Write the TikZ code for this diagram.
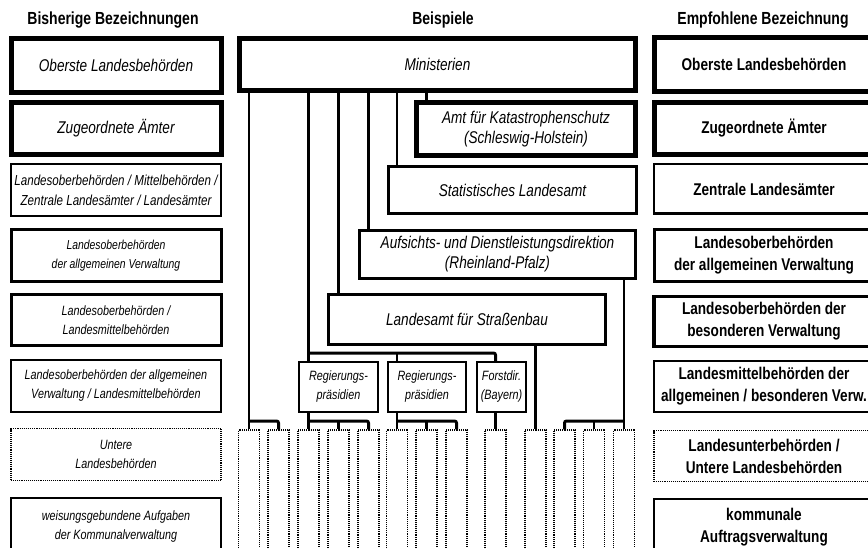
\documentclass[tikz,border=0pt]{standalone}
\usepackage{fontspec}
\setmainfont{Liberation Sans}[FakeStretch=0.8]
\begin{document}
\begin{tikzpicture}[x=1pt,y=-1pt,
  box/.style={draw, fill=white, inner sep=0pt, align=center, text=black},
  lw5/.style={line width=5pt},
  lw3/.style={line width=3pt},
  lw25/.style={line width=2.5pt},
  lw2/.style={line width=2pt},
  dotbox/.style={draw, fill=white, inner sep=0pt, align=center, line width=1.4pt, dash pattern=on 1pt off 0.9pt},
  big/.style={font=\fontsize{17}{20}\selectfont\itshape},
  small/.style={font=\fontsize{13.5}{19}\selectfont\itshape},
  rb/.style={font=\fontsize{17}{22}\selectfont\bfseries},
  head/.style={font=\fontsize{17.5}{20}\selectfont\bfseries},
  conn/.style={line width=2.5pt},
  bus/.style={line width=3pt, rounded corners=2pt},
  lcol/.style={minimum width=210pt},
  rcol/.style={minimum width=220pt},
  dbox/.style={dotbox, minimum width=21pt, minimum height=130pt}
]
\useasboundingbox (0,0) rectangle (868,548);
% headers
\node[head] (h1) at (113,20) {Bisherige Bezeichnungen};
\node[head] (h2) at (443,20) {Beispiele};
\node[head] (h3) at (763,20) {Empfohlene Bezeichnung};
% left column
\node[box,lcol,lw5,big,minimum height=54pt] (l1) at (116,65.5) {Oberste Landesbehörden};
\node[box,lcol,lw5,big,minimum height=52pt] (l2) at (116,128.5) {Zugeordnete Ämter};
\node[box,lcol,lw25,font=\fontsize{14.5}{20}\selectfont\itshape,minimum height=52pt] (l3) at (116,190) {Landesoberbehörden / Mittelbehörden /\\Zentrale Landesämter / Landesämter};
\node[box,lcol,lw3,font=\fontsize{13}{19}\selectfont\itshape,minimum height=52pt] (l4) at (116,255.5) {Landesoberbehörden\\der allgemeinen Verwaltung};
\node[box,lcol,lw3,small,minimum height=51pt] (l5) at (116,320) {Landesoberbehörden /\\Landesmittelbehörden};
\node[box,lcol,lw2,small,minimum height=52pt] (l6) at (116,386) {Landesoberbehörden der allgemeinen\\Verwaltung / Landesmittelbehörden};
\node[dotbox,lcol,small,minimum height=52pt] (l7) at (116,454.5) {Untere\\Landesbehörden};
\node[box,lcol,lw2,small,minimum height=58pt] (l8) at (116,527) {weisungsgebundene Aufgaben\\der Kommunalverwaltung};
% right column
\node[box,rcol,lw5,rb,minimum height=54pt] (r1) at (764,64.5) {Oberste Landesbehörden};
\node[box,rcol,lw5,rb,minimum height=52pt] (r2) at (764,128.5) {Zugeordnete Ämter};
\node[box,rcol,lw25,rb,minimum height=49.5pt] (r3) at (764,189) {Zentrale Landesämter};
\node[box,rcol,lw3,rb,minimum height=52pt] (r4) at (764,255.5) {Landesoberbehörden\\der allgemeinen Verwaltung};
\node[box,rcol,line width=3.5pt,rb,minimum height=49.5pt] (r5) at (764,321.5) {Landesoberbehörden der\\besonderen Verwaltung};
\node[box,rcol,lw2,rb,minimum height=51pt] (r6) at (764,386.5) {Landesmittelbehörden der\\allgemeinen / besonderen Verw.};
\node[dotbox,rcol,rb,minimum height=51pt] (r7) at (764,456) {Landesunterbehörden /\\Untere Landesbehörden};
\node[box,rcol,lw2,rb,minimum height=57pt] (r8) at (764,527) {kommunale\\Auftragsverwaltung};
% middle column
\node[box,lw5,big,minimum width=396pt,minimum height=52pt] (min) at (437.5,64.5) {Ministerien};
\node[box,lw5,big,minimum width=219pt,minimum height=53pt] (amt) at (526,129) {Amt für Katastrophenschutz\\(Schleswig-Holstein)};
\node[box,lw3,big,minimum width=248pt,minimum height=47pt] (stat) at (512.5,190) {Statistisches Landesamt};
\node[box,lw3,big,minimum width=276pt,minimum height=48pt] (auf) at (497.5,254.5) {Aufsichts- und Dienstleistungsdirektion\\(Rheinland-Pfalz)};
\node[box,lw3,big,minimum width=277pt,minimum height=50pt] (sb) at (467,319.5) {Landesamt für Straßenbau};
\node[box,lw2,small,minimum width=79pt,minimum height=50pt] (reg1) at (338.5,387) {Regierungs-\\präsidien};
\node[box,lw2,small,minimum width=78pt,minimum height=50pt] (reg2) at (427,387) {Regierungs-\\präsidien};
\node[box,lw2,small,minimum width=49pt,minimum height=50pt] (forst) at (501.5,387) {Forstdir.\\(Bayern)};
% bottom dotted boxes
\foreach \i/\x in {1/249,2/278.5,3/308.5,4/338.5,5/368.5,6/397,7/426.5,8/456.5,9/495.5,10/535.5,11/564.5,12/594,13/624}
  \node[dbox] (d\i) at (\x,495) {};
% bus coordinates
\coordinate (busR) at (0,353);
\coordinate (busB) at (0,421);
% connectors from Ministerien
\draw[conn] (min.south -| d1) -- (d1.north);
\draw[bus] (d1 |- busB) -- (busB -| d2) -- (d2.north);
\draw[conn] (min.south -| d3) -- (reg1.north -| d3);
\draw[bus] (d3 |- busR) -- (busR -| d9) -- (forst.north -| d9);
\draw[conn] (busR -| d6) -- (reg2.north -| d6);
\draw[conn] (min.south -| d4) -- (sb.north -| d4);
\draw[conn] (min.south -| d5) -- (auf.north -| d5);
\draw[conn] (min.south -| d6) -- (stat.north -| d6);
\draw[conn] (min.south -| d7) -- (amt.north -| d7);
% Regierungspraesidien 1
\draw[conn] (reg1.south -| d3) -- (d3.north);
\draw[bus] (d3 |- busB) -- (busB -| d5) -- (d5.north);
\draw[conn] (busB -| d4) -- (d4.north);
% Regierungspraesidien 2
\draw[conn] (reg2.south -| d6) -- (d6.north);
\draw[bus] (d6 |- busB) -- (busB -| d8) -- (d8.north);
\draw[conn] (busB -| d7) -- (d7.north);
% Forstdirektion
\draw[conn] (forst.south -| d9) -- (d9.north);
% Strassenbau
\draw[conn] (sb.south -| d10) -- (d10.north);
% Aufsichts
\draw[conn] (auf.south -| d13) -- (d13.north);
\draw[bus] (d13 |- busB) -- (busB -| d11) -- (d11.north);
\draw[conn] (busB -| d12) -- (d12.north);
\end{tikzpicture}
\end{document}
